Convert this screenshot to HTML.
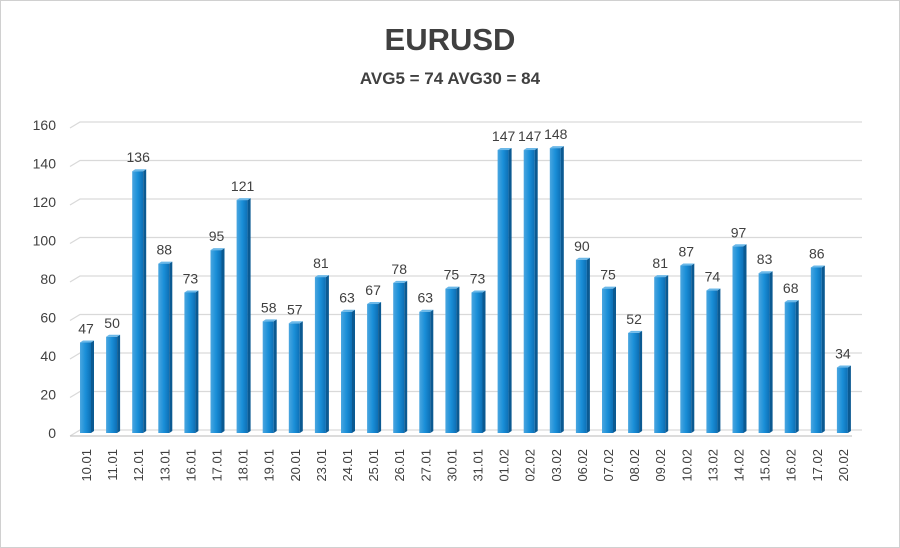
<!DOCTYPE html>
<html><head><style>body{margin:0;background:#fff}svg{display:block}</style></head><body>
<svg width="900" height="548" xmlns="http://www.w3.org/2000/svg" font-family="Liberation Sans, sans-serif">
<defs>
<linearGradient id="g" x1="0" x2="1" y1="0" y2="0">
<stop offset="0" stop-color="#4aa6e0"/><stop offset="0.5" stop-color="#1a8fd8"/><stop offset="1" stop-color="#0d6fb5"/>
</linearGradient>
</defs>
<rect x="0.5" y="0.5" width="899" height="547" fill="#fff" stroke="#d0d0d0"/>
<text x="450" y="50" text-anchor="middle" font-size="31" font-weight="bold" fill="#404040">EURUSD</text>
<text x="450" y="84" text-anchor="middle" font-size="17" font-weight="bold" fill="#404040">AVG5 = 74 AVG30 = 84</text>
<g id="grid" stroke="#d9d9d9" stroke-width="1.2" fill="none"></g>
<g id="ylab" font-size="14" fill="#404040" text-anchor="end"></g>
<g id="bars"></g>
<g id="vals" font-size="14" fill="#404040" text-anchor="middle"></g>
<g id="xlab" font-size="13" fill="#404040"></g>
<script>
(function(){
var v=[47,50,136,88,73,95,121,58,57,81,63,67,78,63,75,73,147,147,148,90,75,52,81,87,74,97,83,68,86,34];
var l=["10.01","11.01","12.01","13.01","16.01","17.01","18.01","19.01","20.01","23.01","24.01","25.01","26.01","27.01","30.01","31.01","01.02","02.02","03.02","06.02","07.02","08.02","09.02","10.02","13.02","14.02","15.02","16.02","17.02","20.02"];
var ns="http://www.w3.org/2000/svg";
function el(p,t,a,txt){var e=document.createElementNS(ns,t);for(var k in a)e.setAttribute(k,a[k]);if(txt!=null)e.textContent=txt;document.getElementById(p).appendChild(e);}
var y0=433,s=1.925;
for(var i=0;i<=8;i++){var y=y0-i*20*s;
el("grid","path",{d:"M70 "+(y+3)+" L80 "+(y-3)+" L862 "+(y-3)});
el("ylab","text",{x:56,y:y+5},i*20);}
el("grid","path",{d:"M70 436 L852 436",stroke:"#c8c8c8"});
for(var i=0;i<30;i++){var x=80+i*26.1,h=v[i]*s,ty=y0-h;
el("bars","rect",{x:x,y:ty,width:11,height:h,fill:"url(#g)"});
el("bars","path",{d:"M"+(x+11)+" "+ty+" L"+(x+14)+" "+(ty-2)+" L"+(x+14)+" "+(y0-2)+" L"+(x+11)+" "+y0+"Z",fill:"#0b5a92"});
el("bars","path",{d:"M"+x+" "+ty+" L"+(x+3)+" "+(ty-2)+" L"+(x+14)+" "+(ty-2)+" L"+(x+11)+" "+ty+"Z",fill:"#6bb8e8"});
el("vals","text",{x:x+6,y:ty-9},v[i]);
el("xlab","text",{transform:"translate("+(x+11)+",449) rotate(-90)","text-anchor":"end"},l[i]);}
})();
</script>
</svg>
</body></html>
